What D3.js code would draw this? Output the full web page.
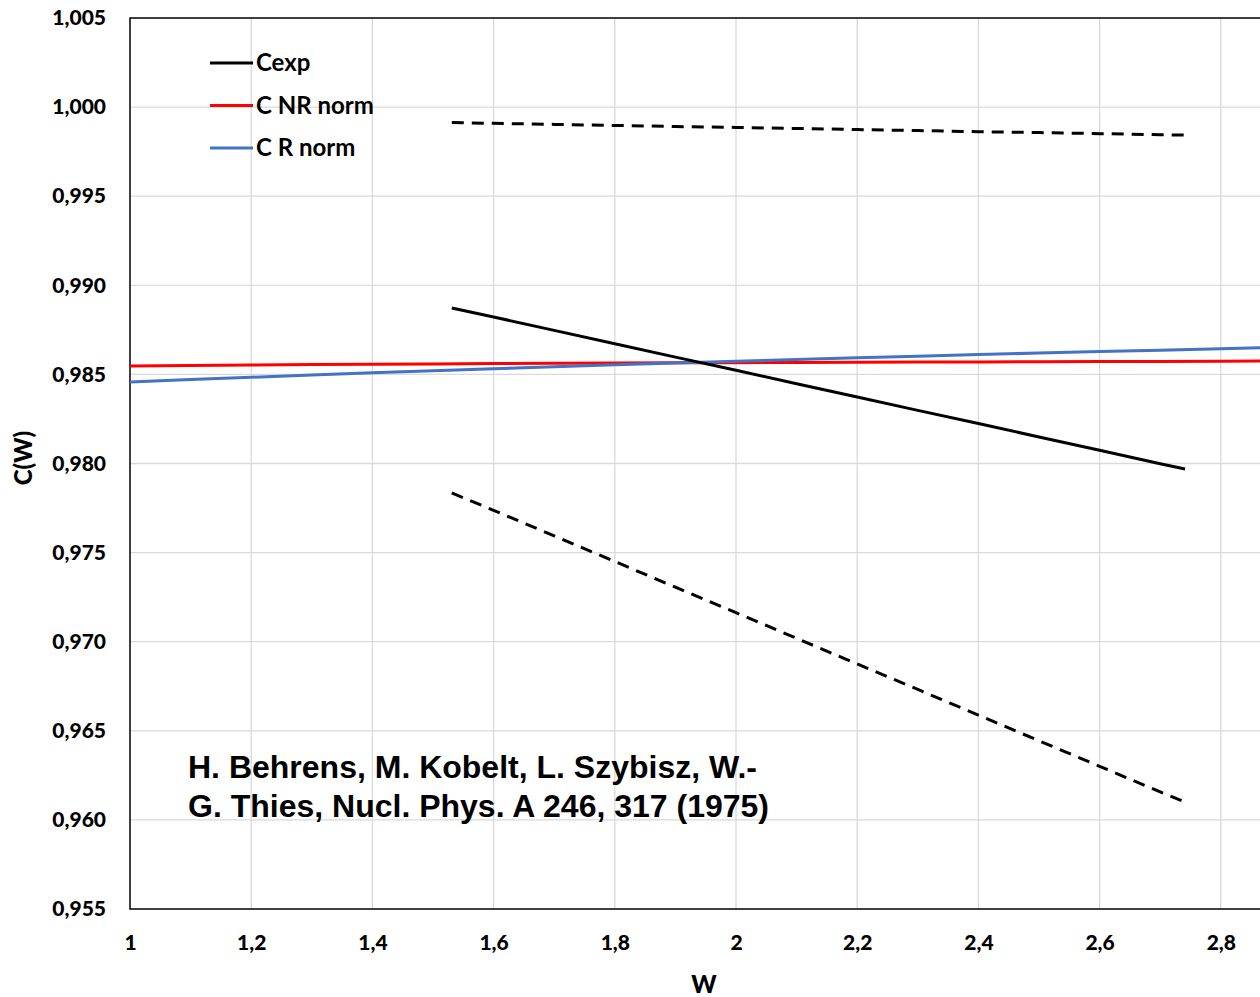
<!DOCTYPE html>
<html>
<head>
<meta charset="utf-8">
<script src="https://cdn.jsdelivr.net/npm/d3@7"></script>
<style>
  body { margin: 0; background: #fff; }
  svg { display: block; }
  .tick text { font-family: Lato, "Open Sans", sans-serif; font-weight: 900; font-size: 21px; fill: #000; }
</style>
</head>
<body>
<div id="chart"></div>
<script>
// data
var wNorm = [1.0, 1.1, 1.2, 1.3, 1.4, 1.5, 1.6, 1.7, 1.8, 1.9, 2.0, 2.1, 2.2, 2.3, 2.4, 2.5, 2.6, 2.7, 2.8, 2.9];
var cNR = [0.98547, 0.98550, 0.98553, 0.98555, 0.98557, 0.98559, 0.98561, 0.98562, 0.98564, 0.98565, 0.98566, 0.98567, 0.98568, 0.98569, 0.98570, 0.98571, 0.98572, 0.98573, 0.98574, 0.98575];
var cR = [0.98457, 0.98471, 0.98484, 0.98497, 0.98509, 0.98521, 0.98532, 0.98543, 0.98554, 0.98564, 0.98574, 0.98584, 0.98593, 0.98602, 0.98611, 0.98620, 0.98628, 0.98636, 0.98644, 0.98652];

var wExp = [1.531, 1.6, 1.7, 1.8, 1.9, 2.0, 2.1, 2.2, 2.3, 2.4, 2.5, 2.6, 2.7, 2.741];
var cExp = [0.98873, 0.98822, 0.98747, 0.98672, 0.98597, 0.98523, 0.98448, 0.98373, 0.98298, 0.98224, 0.98149, 0.98074, 0.97999, 0.97969];
var cExpHi = [0.99913, 0.99909, 0.99903, 0.99897, 0.99891, 0.99886, 0.99880, 0.99874, 0.99868, 0.99862, 0.99857, 0.99851, 0.99845, 0.99843];
var cExpLo = [0.97835, 0.97737, 0.97594, 0.97450, 0.97306, 0.97163, 0.97019, 0.96875, 0.96732, 0.96588, 0.96444, 0.96301, 0.96157, 0.96100];

var xTicks = [1, 1.2, 1.4, 1.6, 1.8, 2, 2.2, 2.4, 2.6, 2.8];
var yTicks = [0.955, 0.960, 0.965, 0.970, 0.975, 0.980, 0.985, 0.990, 0.995, 1.000, 1.005];
var legendNames = ["Cexp", "C NR norm", "C R norm"];
var legendColors = ["#000000", "#ff0000", "#4472c4"];

var width = 1260, height = 997;
var plotLeft = 130, plotTop = 18, plotBottom = 909;

var svg = d3.select('#chart').append('svg')
    .attr('width', width)
    .attr('height', height);

var x = d3.scaleLinear().domain([1, 3]).range([plotLeft, plotLeft + 2 * 606]);
var y = d3.scaleLinear().domain([0.955, 1.005]).range([plotBottom, plotTop]);

var fmtX = function (d) { return String(d).replace('.', ','); };
var fmtY = function (d) { return d3.format('.3f')(d).replace('.', ','); };

// gridlines
svg.append('g').selectAll('line.gx')
    .data(xTicks.slice(1)).enter().append('line')
    .attr('x1', d => x(d)).attr('x2', d => x(d))
    .attr('y1', plotTop).attr('y2', plotBottom)
    .attr('stroke', '#d9d9d9').attr('stroke-width', 1.3);
svg.append('g').selectAll('line.gy')
    .data(yTicks.slice(1, -1)).enter().append('line')
    .attr('x1', plotLeft).attr('x2', x(3))
    .attr('y1', d => y(d)).attr('y2', d => y(d))
    .attr('stroke', '#d9d9d9').attr('stroke-width', 1.3);

// plot frame
svg.append('rect')
    .attr('x', plotLeft).attr('y', plotTop)
    .attr('width', x(3) - plotLeft).attr('height', plotBottom - plotTop)
    .attr('fill', 'none').attr('stroke', '#000').attr('stroke-width', 1.5);

// axes (labels only, frame draws the lines)
var xAxis = svg.append('g')
    .attr('transform', 'translate(0,' + plotBottom + ')')
    .call(d3.axisBottom(x).tickValues(xTicks).tickFormat(fmtX).tickSize(0).tickPadding(26));
xAxis.select('.domain').remove();

var yAxis = svg.append('g')
    .attr('transform', 'translate(' + plotLeft + ',0)')
    .call(d3.axisLeft(y).tickValues(yTicks).tickFormat(fmtY).tickSize(0).tickPadding(24));
yAxis.select('.domain').remove();

// axis titles
svg.append('text')
    .attr('x', 704).attr('y', 993)
    .attr('text-anchor', 'middle')
    .style('font-family', 'Lato, sans-serif').style('font-weight', 900).style('font-size', '24px')
    .text('W');
svg.append('text')
    .attr('transform', 'translate(32,458)rotate(-90)')
    .attr('text-anchor', 'middle')
    .style('font-family', 'Lato, sans-serif').style('font-weight', 900).style('font-size', '24px')
    .text('C(W)');

// clip to plot area
svg.append('clipPath').attr('id', 'clip')
    .append('rect').attr('x', plotLeft).attr('y', plotTop).attr('width', x(3) - plotLeft).attr('height', plotBottom - plotTop);

var plot = svg.append('g').attr('clip-path', 'url(#clip)');

function lineOf(xs) {
    return d3.line().x((d, i) => x(xs[i])).y(d => y(d));
}

plot.append('path').datum(cNR)
    .attr('d', lineOf(wNorm))
    .attr('fill', 'none').attr('stroke', '#ff0000').attr('stroke-width', 3);
plot.append('path').datum(cR)
    .attr('d', lineOf(wNorm))
    .attr('fill', 'none').attr('stroke', '#4472c4').attr('stroke-width', 3);
plot.append('path').datum(cExp)
    .attr('d', lineOf(wExp))
    .attr('fill', 'none').attr('stroke', '#000').attr('stroke-width', 3);
plot.append('path').datum(cExpHi)
    .attr('d', lineOf(wExp))
    .attr('fill', 'none').attr('stroke', '#000').attr('stroke-width', 3)
    .attr('stroke-dasharray', '12,8');
plot.append('path').datum(cExpLo)
    .attr('d', lineOf(wExp))
    .attr('fill', 'none').attr('stroke', '#000').attr('stroke-width', 3)
    .attr('stroke-dasharray', '12,8');

// legend
var legend = svg.append('g');
legendNames.forEach(function (name, i) {
    var ly = 63 + i * 42.5;
    legend.append('line')
        .attr('x1', 210).attr('x2', 253)
        .attr('y1', ly).attr('y2', ly)
        .attr('stroke', legendColors[i]).attr('stroke-width', 3);
    legend.append('text')
        .attr('x', 256).attr('y', ly + 8)
        .style('font-family', 'Lato, sans-serif').style('font-weight', 'bold').style('font-size', '24px')
        .text(name);
});

// reference note
var note = svg.append('text')
    .style('font-family', '"Liberation Sans", Arial, sans-serif')
    .style('font-weight', 'bold').style('font-size', '32px');
note.append('tspan').attr('x', 188).attr('y', 778).text('H. Behrens, M. Kobelt, L. Szybisz, W.-');
note.append('tspan').attr('x', 188).attr('y', 817).text('G. Thies, Nucl. Phys. A 246, 317 (1975)');
</script>
</body>
</html>
